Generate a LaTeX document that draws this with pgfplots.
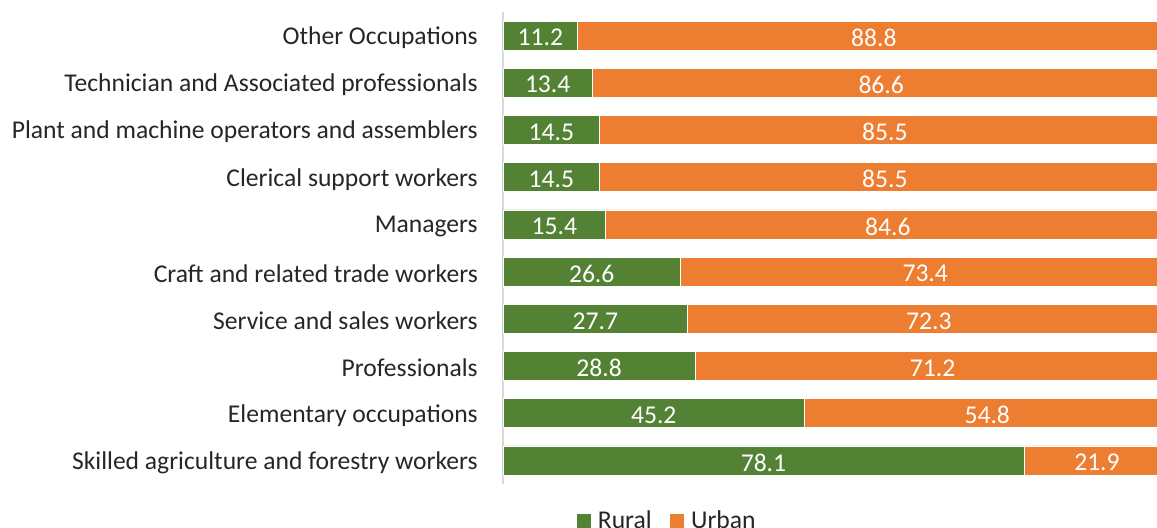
\documentclass[border=0pt]{standalone}
\usepackage{pgfplots}
\pgfplotsset{compat=1.18}
\usepackage{pgfplotstable}
\usepackage{fontspec}
\setmainfont{Carlito}
\definecolor{rural}{HTML}{548235}
\definecolor{urban}{HTML}{ED7D31}
\definecolor{txt}{HTML}{262626}
\definecolor{axisgray}{HTML}{D9D9D9}
\pgfplotstableread{
y rural urban
0 78.1 21.9
1 45.2 54.8
2 28.8 71.2
3 27.7 72.3
4 26.6 73.4
5 15.4 84.6
6 14.5 85.5
7 14.5 85.5
8 13.4 86.6
9 11.2 88.8
}\data
\newcommand{\lblfont}{\fontsize{19.2}{22}\selectfont}
\begin{document}
\begin{tikzpicture}
\useasboundingbox (0,0) rectangle (867.75pt,396pt);
\clip (0,0) rectangle (867.75pt,396pt);
\begin{axis}[
  at={(377.25pt,33pt)}, anchor=south west,
  scale only axis, width=500.25pt, height=354pt,
  xbar stacked, bar width=21.75pt,
  xmin=0, xmax=100, ymin=-0.5, ymax=9.5,
  hide x axis,
  axis y line*=left,
  y axis line style={draw=axisgray, line width=1.1pt},
  ytick={0,...,9},
  yticklabels={Skilled agriculture and forestry workers, Elementary occupations, Professionals, Service and sales workers, Craft and related trade workers, Managers, Clerical support workers, Plant and machine operators and assemblers, Technician and Associated professionals, Other Occupations},
  major tick length=0pt,
  yticklabel style={font=\lblfont, text=txt, inner sep=0pt, anchor=east, xshift=-18.75pt, yshift=-1.5pt},
  legend style={at={(0.247,-0.078)}, anchor=center, legend columns=2, draw=none, fill=none, font=\lblfont, text=txt,
    /tikz/every odd column/.append style={column sep=3pt},
    /tikz/every even column/.append style={column sep=12pt}},
  legend image code/.code={\path[#1,draw=none] (0pt,-5.25pt) rectangle (10.5pt,5.25pt);},
]
\addplot[fill=rural, draw=white, line width=0.4pt] table[x=rural, y=y] {\data};
\addplot[fill=urban, draw=white, line width=0.4pt] table[x=urban, y=y] {\data};
\legend{Rural, Urban}
\end{axis}
\begin{axis}[
  at={(377.25pt,33pt)}, anchor=south west,
  scale only axis, width=500.25pt, height=354pt,
  xmin=0, xmax=100, ymin=-0.5, ymax=9.5,
  hide axis, clip=false,
]
\addplot[draw=none, mark=none, nodes near coords, point meta=explicit symbolic,
  nodes near coords style={anchor=center, text=white, font=\lblfont, yshift=-1.5pt}]
  table[x expr=\thisrow{rural}/2, y=y, meta=rural] {\data};
\addplot[draw=none, mark=none, nodes near coords, point meta=explicit symbolic,
  nodes near coords style={anchor=center, text=white, font=\lblfont, yshift=-1.5pt}]
  table[x expr=\thisrow{rural}+\thisrow{urban}/2, y=y, meta=urban] {\data};
\end{axis}
\end{tikzpicture}
\end{document}
